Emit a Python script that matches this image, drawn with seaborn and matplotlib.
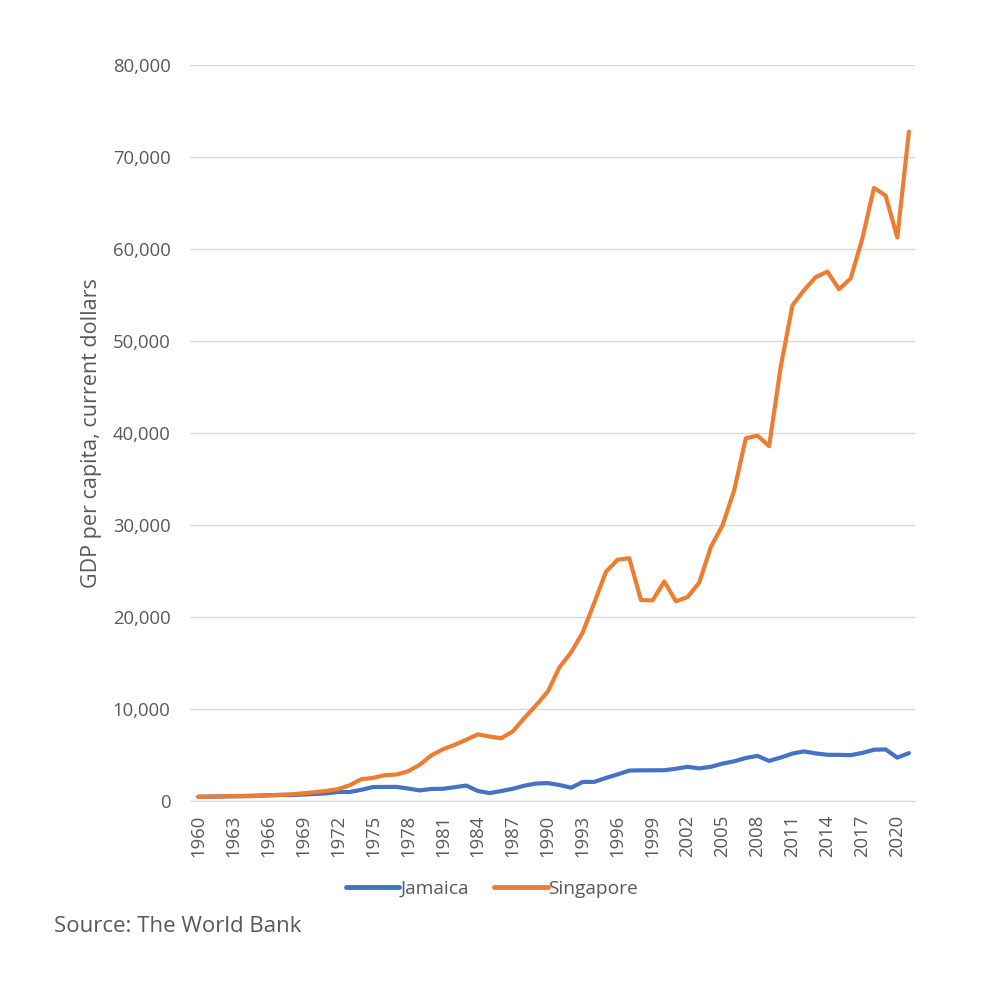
import numpy as np
import pandas as pd
import matplotlib
matplotlib.use("Agg")
import matplotlib.pyplot as plt
import seaborn as sns
from matplotlib.ticker import FuncFormatter

# Datos
years = list(range(1960, 2022))
jamaica = [430, 446, 460, 480, 520, 556, 600, 636, 610, 680,
           735, 800, 950, 950, 1190, 1490, 1500, 1510, 1330, 1120,
           1280, 1300, 1470, 1650, 1060, 830, 1050, 1300, 1640, 1870,
           1920, 1710, 1420, 2040, 2050, 2480, 2870, 3280, 3310, 3310,
           3320, 3480, 3690, 3520, 3690, 4040, 4290, 4650, 4880, 4330,
           4700, 5130, 5370, 5150, 5000, 4990, 4960, 5200, 5550, 5580,
           4690, 5180]
singapore = [428, 449, 472, 511, 485, 517, 567, 626, 708, 813,
             925, 1071, 1264, 1685, 2341, 2490, 2770, 2846, 3194, 3901,
             4928, 5596, 6078, 6633, 7228, 6983, 6800, 7539, 9017, 10394,
             11862, 14502, 16135, 18302, 21553, 24915, 26233, 26376, 21829, 21797,
             23853, 21700, 22160, 23730, 27609, 29961, 33769, 39433, 39721, 38578,
             47237, 53891, 55546, 56967, 57563, 55647, 56828, 61162, 66679, 65831,
             61274, 72794]
countries = ["Jamaica", "Singapore"]
colores = ["#4472C4", "#ED7D31"]

df = pd.DataFrame({
    "Year": years * 2,
    "GDP": jamaica + singapore,
    "Country": ["Jamaica"] * len(years) + ["Singapore"] * len(years),
})

sns.set_style("white")
plt.rcParams["font.family"] = ["Open Sans", "DejaVu Sans"]
gris = "#595959"

fig = plt.figure(figsize=(9.9, 9.91), dpi=100)
ax = fig.add_axes([0.192, 0.192, 0.732, 0.742])

sns.lineplot(data=df, x="Year", y="GDP", hue="Country", hue_order=countries,
             palette=colores, linewidth=3, ax=ax, legend=False)

ax.set_xlim(1959.3, 2021.5)
ax.set_ylim(0, 80000)
ax.set_yticks(np.arange(0, 80001, 10000))
ax.yaxis.set_major_formatter(FuncFormatter(lambda v, p: f"{int(v):,}"))
ax.set_xticks(years[::3])
ax.set_xticklabels([str(y) for y in years[::3]], rotation=90)
ax.tick_params(axis="both", colors=gris, labelsize=13.3, length=0)
ax.tick_params(axis="y", pad=14)
ax.tick_params(axis="x", pad=10)
ax.grid(axis="y", color="#d9d9d9", linewidth=1)
ax.set_axisbelow(True)
for s in ["top", "right", "left"]:
    ax.spines[s].set_visible(False)
ax.spines["bottom"].set_color("#d9d9d9")

ax.set_xlabel("")
ax.set_ylabel("GDP per capita, current dollars", color=gris, fontsize=15.5, labelpad=8)

handles = [plt.Line2D([], [], color=c, linewidth=3.5) for c in colores]
fig.legend(handles, countries, loc="center", bbox_to_anchor=(0.497, 0.103), ncol=2,
           frameon=False, fontsize=13.8, handlelength=2.8, handletextpad=0.05,
           columnspacing=1.3, labelcolor=gris)

fig.text(0.055, 0.060, "Source: The World Bank", fontsize=16, color=gris)

fig.savefig("out.png", dpi=100, facecolor="white")
